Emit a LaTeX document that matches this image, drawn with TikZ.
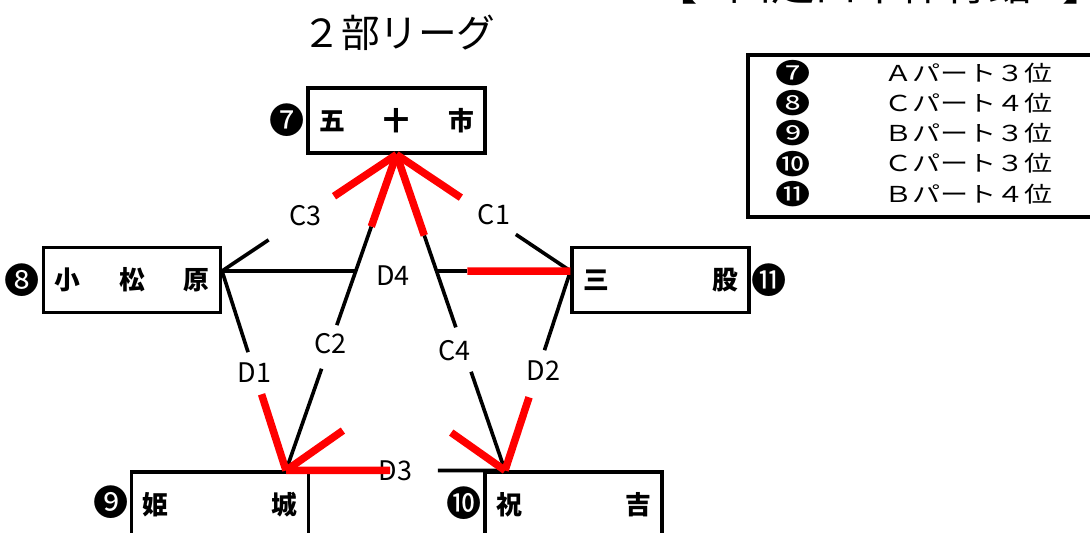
\documentclass[tikz,border=0pt]{standalone}
\usepackage{fontspec}
\setmainfont{Noto Sans CJK JP}
\usetikzlibrary{calc}

\newcommand{\spread}[1]{\makebox[4.65cm][s]{#1}}
\newcommand{\squash}[1]{\scalebox{1}[0.78]{#1}}

\begin{document}
\begin{tikzpicture}[x=0.03cm,y=-0.03cm,
    team/.style={draw,line width=2.6pt,inner xsep=0.33cm,minimum height=1.95cm,font=\fontsize{22}{24}\selectfont\bfseries},
    num/.style={font=\fontsize{30}{32}\selectfont},
    lbl/.style={font=\fontsize{23}{25}\selectfont},
    blk/.style={line width=3.1pt},
    win/.style={line width=6.4pt,red}]
        \useasboundingbox (0,0) rectangle (1090,533);

        \node[font=\fontsize{33}{35}\selectfont] (title) at (399,33) {２部リーグ};
        \node[font=\fontsize{37}{39}\selectfont,anchor=base] (venue) at (880,0) {【\hspace{0.7em}山之口中体育館\hspace{0.7em}】};

        \node[team] (isoichi) at (396.5,120.5) {\spread{五\hfill 十\hfill 市}};
        \node[team] (komatsubara) at (132,280) {\spread{小\hfill 松\hfill 原}};
        \node[team] (mimata) at (660.5,280) {\spread{三\hfill 股}};
        \node[team] (himeki) at (220,504.5) {\spread{姫\hfill 城}};
        \node[team] (iwayoshi) at (573.5,504.5) {\spread{祝\hfill 吉}};

        \node[num] (m7) at (287,120) {❼};
        \node[num] (m8) at (22,280) {❽};
        \node[num] (m11) at (769,280) {⓫};
        \node[num] (m9) at (111,502) {❾};
        \node[num] (m10) at (464,503) {❿};

        \coordinate (pA) at (isoichi.south);
        \coordinate (pB) at ($(komatsubara.east)+(0,-9)$);
        \coordinate (pE) at ($(mimata.west)+(0,-9)$);
        \coordinate (pC) at ($(himeki.north)+(66,0)$);
        \coordinate (pD) at ($(iwayoshi.north)+(-68.5,0)$);

        \draw[blk] ($(pA)!0.733!(pB)$) -- (pB);
        \draw[blk] ($(pA)!0.686!(pE)$) -- (pE);
        \draw[blk] ($(pA)!0.228!(pC)$) -- ($(pA)!0.54!(pC)$);
        \draw[blk] ($(pA)!0.678!(pC)$) -- (pC);
        \draw[blk] ($(pA)!0.256!(pD)$) -- ($(pA)!0.547!(pD)$);
        \draw[blk] ($(pA)!0.6875!(pD)$) -- (pD);
        \draw[blk] (pB) -- ($(pB)!0.407!(pC)$);
        \draw[blk] (pE) -- ($(pE)!0.397!(pD)$);
        \draw[blk] (pB) -- ($(pB)!0.382!(pE)$);
        \draw[blk] ($(pB)!0.615!(pE)$) -- ($(pB)!0.704!(pE)$);
        \draw[blk] ($(pC)!0.694!(pD)$) -- (pD);

        \node[lbl] (c3) at ($(pA)!0.523!(pB)$) {C3};
        \node[lbl] (c1) at ($(pA)!0.56!(pE)+(0,-5)$) {C1};
        \node[lbl] (c2) at ($(pA)!0.6!(pC)$) {C2};
        \node[lbl] (c4) at ($(pA)!0.62!(pD)+(-9,0)$) {C4};
        \node[lbl] (d1) at ($(pB)!0.51!(pC)$) {D1};
        \node[lbl] (d2) at ($(pE)!0.5!(pD)+(6,0)$) {D2};
        \node[lbl] (d4) at ($(pB)!0.49!(pE)+(0,5)$) {D4};
        \node[lbl] (d3) at ($(pC)!0.5!(pD)$) {D3};

        \draw[win] (pA) -- ($(pA)!0.358!(pB)$);
        \draw[win] (pA) -- ($(pA)!0.37!(pE)$);
        \draw[win] (pA) -- ($(pA)!0.228!(pC)$);
        \draw[win] (pA) -- ($(pA)!0.256!(pD)$);
        \draw[win] ($(pB)!0.618!(pC)$) -- (pC);
        \draw[win] ($(pE)!0.633!(pD)$) -- (pD);
        \draw[win] ($(pB)!0.704!(pE)$) -- (pE);
        \draw[win] (pC) -- ($(pC)!0.475!(pD)$);
        \draw[win] (pC) -- ($(pC)!0.2!(pE)$);
        \draw[win] (pD) -- ($(pD)!0.19!(pB)$);

        \draw[line width=3.2pt] (748,55) rectangle (1100,217);
        \foreach \m/\t [count=\i] in {❼/Ａパート３位,❽/Ｃパート４位,❾/Ｂパート３位,❿/Ｃパート３位,⓫/Ｂパート４位} {
          \node[num] (k\i) at (793,73+30.2*\i-30.2) {\squash{\m}};
          \node[font=\fontsize{24}{26}\selectfont,anchor=west] (r\i) at (880,73+30.2*\i-30.2) {\squash{\t}};
        }
      \end{tikzpicture}
\end{document}
